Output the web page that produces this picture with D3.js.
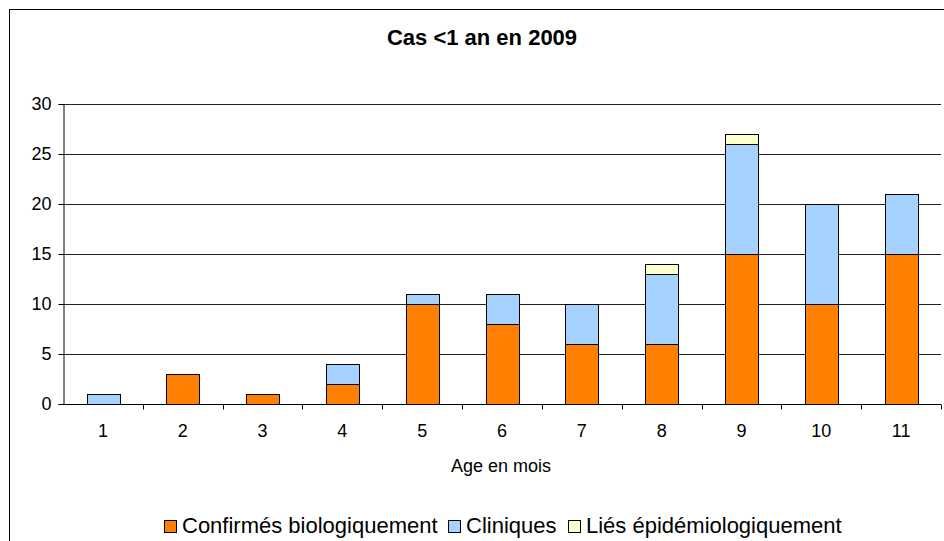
<!DOCTYPE html>
<html>
<head>
<meta charset="utf-8">
<script src="https://cdn.jsdelivr.net/npm/d3@7"></script>
<style>
  body { margin: 0; background: #fff; }
  text { font-family: "Liberation Sans", Arial, sans-serif; fill: #000; }
</style>
</head>
<body>
<div id="chart"></div>
<script>
// data
var months = ["1", "2", "3", "4", "5", "6", "7", "8", "9", "10", "11"];
var confirmes = [0, 3, 1, 2, 10, 8, 6, 6, 15, 10, 15];
var cliniques = [1, 0, 0, 2, 1, 3, 4, 7, 11, 10, 6];
var lies = [0, 0, 0, 0, 0, 0, 0, 1, 1, 0, 0];
var seriesNames = ["Confirmés biologiquement", "Cliniques", "Liés épidémiologiquement"];
var yTicks = [0, 5, 10, 15, 20, 25, 30];

var colors = ["#ff8000", "#a6d2ff", "#ffffcc"];

var W = 944, H = 541;
var margin = { top: 104, right: 3, bottom: 137, left: 63 },
    width = W - margin.left - margin.right,
    height = H - margin.top - margin.bottom;

var svg = d3.select("#chart")
    .append("svg")
    .attr("width", W)
    .attr("height", H);

// outer frame
svg.append("rect")
    .attr("x", 9.5).attr("y", 9.5)
    .attr("width", W).attr("height", H)
    .attr("fill", "none")
    .attr("stroke", "#000");

// title
svg.append("text")
    .attr("x", 482).attr("y", 45)
    .attr("text-anchor", "middle")
    .style("font-size", "22px")
    .style("font-weight", "bold")
    .text("Cas <1 an en 2009");

var g = svg.append("g")
    .attr("transform", "translate(" + margin.left + "," + margin.top + ")");

// table for stacking
var table = months.map(function (m, i) {
    return { month: m, s0: confirmes[i], s1: cliniques[i], s2: lies[i] };
});
var stack = d3.stack().keys(["s0", "s1", "s2"])(table);

var x = d3.scaleBand().domain(months).range([0, width]).paddingInner(0).paddingOuter(0);
var y = d3.scaleLinear().domain([0, 30]).range([height, 0]);

// gridlines
g.append("g")
    .selectAll("line")
    .data(yTicks.filter(function (d) { return d > 0; }))
    .enter()
    .append("line")
    .attr("x1", 0).attr("x2", width)
    .attr("y1", function (d) { return Math.round(y(d)) + 0.5; })
    .attr("y2", function (d) { return Math.round(y(d)) + 0.5; })
    .attr("stroke", "#222");

// y axis
var yAxis = g.append("g")
    .attr("transform", "translate(0.5,0)")
    .call(d3.axisLeft(y).tickValues(yTicks).tickSize(5).tickPadding(7));
yAxis.select(".domain").attr("stroke", "#000");
yAxis.selectAll("line").attr("stroke", "#000");
yAxis.selectAll("text").style("font-size", "18px")
    .style("font-family", "Liberation Sans, Arial, sans-serif");

// bars
var bw = x.bandwidth() * 0.41;
g.append("g")
    .selectAll("g")
    .data(stack)
    .enter()
    .append("g")
    .attr("fill", function (d, i) { return colors[i]; })
    .selectAll("rect")
    .data(function (d) { return d.filter(function (v) { return v[1] - v[0] > 0; }); })
    .enter()
    .append("rect")
    .attr("x", function (d) { return Math.round(x(d.data.month) + (x.bandwidth() - bw) / 2) + 0.5; })
    .attr("y", function (d) { return Math.round(y(d[1])) + 0.5; })
    .attr("width", Math.round(bw))
    .attr("height", function (d) { return Math.round(y(d[0])) - Math.round(y(d[1])); })
    .attr("stroke", "#000")
    .attr("stroke-width", 1);

// x axis with ticks between categories
var xAxisG = g.append("g")
    .attr("transform", "translate(0," + (Math.round(height) + 0.5) + ")");
xAxisG.append("line")
    .attr("x1", 0).attr("x2", width)
    .attr("stroke", "#000");
xAxisG.selectAll("line.tick")
    .data(months)
    .enter()
    .append("line")
    .attr("class", "tick")
    .attr("x1", function (d) { return Math.round(x(d) + x.bandwidth()) + 0.5; })
    .attr("x2", function (d) { return Math.round(x(d) + x.bandwidth()) + 0.5; })
    .attr("y1", 0).attr("y2", 5)
    .attr("stroke", "#000");
xAxisG.selectAll("text")
    .data(months)
    .enter()
    .append("text")
    .attr("x", function (d) { return x(d) + x.bandwidth() / 2; })
    .attr("y", 32)
    .attr("text-anchor", "middle")
    .style("font-size", "18px")
    .text(function (d) { return d; });

// x axis title
svg.append("text")
    .attr("x", 501).attr("y", 472)
    .attr("text-anchor", "middle")
    .style("font-size", "18px")
    .text("Age en mois");

// legend
var legendX = [164, 448, 568];
var legend = svg.append("g")
    .selectAll("g")
    .data(seriesNames)
    .enter()
    .append("g")
    .attr("transform", function (d, i) { return "translate(" + legendX[i] + ",520)"; });
legend.append("rect")
    .attr("x", 0.5).attr("y", 0.5)
    .attr("width", 12).attr("height", 12)
    .attr("fill", function (d, i) { return colors[i]; })
    .attr("stroke", "#000");
legend.append("text")
    .attr("x", 18).attr("y", 13)
    .style("font-size", "22px")
    .text(function (d) { return d; });
</script>
</body>
</html>
